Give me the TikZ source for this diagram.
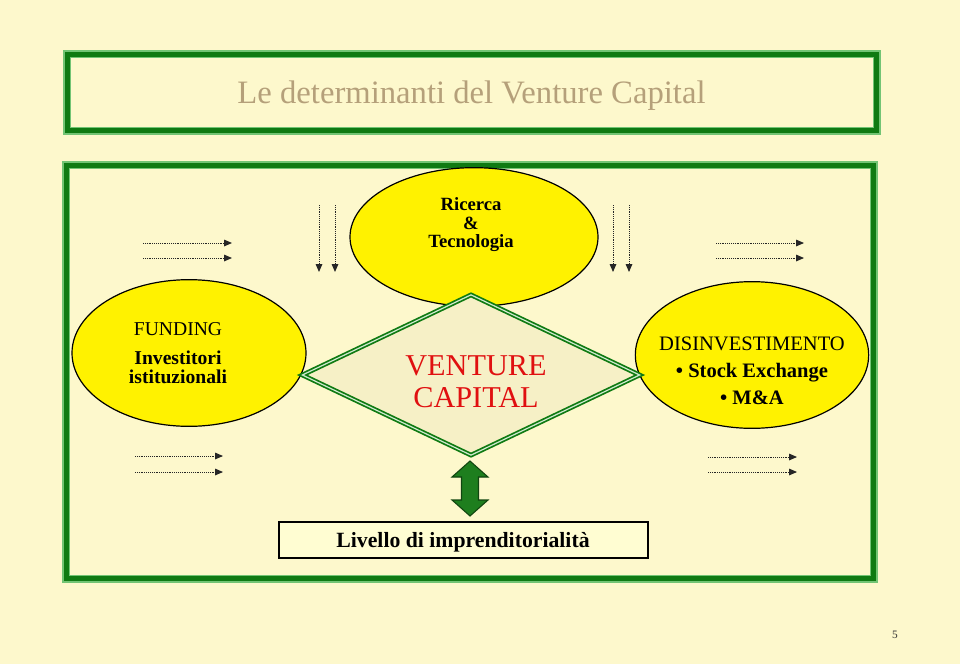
\documentclass[tikz,border=0pt]{standalone}
\usepackage{fontspec}
\setmainfont{Liberation Serif}
\usetikzlibrary{shapes.geometric,arrows.meta}
\definecolor{bg}{HTML}{FDF8CC}
\definecolor{dkgreen}{HTML}{0F7A12}
\definecolor{ltgreen}{HTML}{72C474}
\definecolor{titlec}{HTML}{B5A07A}
\definecolor{diafill}{HTML}{F6F0C6}
\definecolor{arrgreen}{HTML}{1E7E1E}
\definecolor{lvfill}{HTML}{FFFDD2}
\definecolor{vcred}{HTML}{E01010}
\begin{document}
\begin{tikzpicture}[x=0.75pt,y=-0.75pt,
  frameL/.style={draw=ltgreen,line width=6pt},
  frameD/.style={draw=dkgreen,line width=3.6pt},
  yell/.style={ellipse,draw=black,line width=0.9pt,fill=yellow,inner sep=0pt},
  diam/.style={diamond,draw=dkgreen,line width=1.3pt,double=ltgreen!35,double distance=0.9pt,fill=diafill,inner sep=0pt},
  txt/.style={align=center,inner sep=0pt,text=black},
  darr/.style={line width=0.7pt,black!85,dash pattern=on 0.6pt off 0.8pt,-{Triangle[length=6pt,width=5pt]}},
  lvbox/.style={draw=black,line width=1pt,fill=lvfill,inner sep=0pt,minimum width=276.75pt,minimum height=27pt}
]
\fill[bg] (0,0) rectangle (960,664);
\useasboundingbox (0,0) rectangle (960,664);

% frames
\draw[frameL] (67,54) rectangle (877,131);
\draw[frameD] (67.5,54.5) rectangle (876.5,130.5);
\draw[frameL] (66,165) rectangle (874,579);
\draw[frameD] (66.5,165.5) rectangle (873.5,578.5);

\node[text=titlec,inner sep=0pt,font={\fontsize{24.5}{24.5}\selectfont}] (title) at (471.5,96) {Le determinanti del Venture Capital};

% ellipses
\node[yell,minimum width=186pt,minimum height=104pt] (rt) at (474,237) {};
\node[yell,minimum width=175.5pt,minimum height=110pt] (fund) at (189,353) {};
\node[yell,minimum width=175pt,minimum height=110pt] (dis) at (752,355) {};
\node[diam,minimum width=253.5pt,minimum height=120.75pt] (vc) at (471,375) {};

\node[txt,font={\fontsize{14}{13.9}\selectfont\bfseries}] (rtt) at (471,225) {Ricerca\\\&\\Tecnologia};
\node[txt,font={\fontsize{14.7}{14.3}\selectfont}] (fundt) at (178,353) {FUNDING\\[7.5pt]\bfseries Investitori\\\bfseries istituzionali};
\node[txt,font={\fontsize{15.4}{20.25}\selectfont}] (dist) at (752,371) {DISINVESTIMENTO\\\bfseries • Stock Exchange\\\bfseries • M\&A};
\node[txt,text=vcred,font={\fontsize{22.7}{24}\selectfont}] (vct) at (476,382) {VENTURE\\CAPITAL};

% livello
\node[lvbox] (lv) at (463.5,540) {};
\node[txt,font={\fontsize{16.3}{16.3}\selectfont\bfseries}] (lvt) at (463,542) {Livello di imprenditorialità};

% green double arrow
\draw[fill=arrgreen,draw=arrgreen!55!black,line width=0.8pt]
  (470,461) -- (488,477) -- (478.5,477) -- (478.5,500) -- (488,500) -- (470,516)
  -- (452,500) -- (461.5,500) -- (461.5,477) -- (452,477) -- cycle;

% dotted arrows
\coordinate (h1s) at (143,243); \coordinate (h1e) at (232,243);
\coordinate (h2s) at (143,258); \coordinate (h2e) at (232,258);
\coordinate (h3s) at (716,243); \coordinate (h3e) at (804,243);
\coordinate (h4s) at (716,258); \coordinate (h4e) at (804,258);
\coordinate (h5s) at (135,456); \coordinate (h5e) at (223,456);
\coordinate (h6s) at (135,472); \coordinate (h6e) at (223,472);
\coordinate (h7s) at (708,457); \coordinate (h7e) at (797,457);
\coordinate (h8s) at (708,472); \coordinate (h8e) at (797,472);
\coordinate (v1s) at (319,205); \coordinate (v1e) at (319,272);
\coordinate (v2s) at (335,205); \coordinate (v2e) at (335,272);
\coordinate (v3s) at (613,205); \coordinate (v3e) at (613,272);
\coordinate (v4s) at (629,205); \coordinate (v4e) at (629,272);
\foreach \a in {h1,h2,h3,h4,h5,h6,h7,h8,v1,v2,v3,v4}
  \draw[darr] (\a s) -- (\a e);

\node[inner sep=0pt,text=black!80,font={\fontsize{8.5}{8.5}\selectfont}] (pg) at (895,635) {5};
\end{tikzpicture}
\end{document}
